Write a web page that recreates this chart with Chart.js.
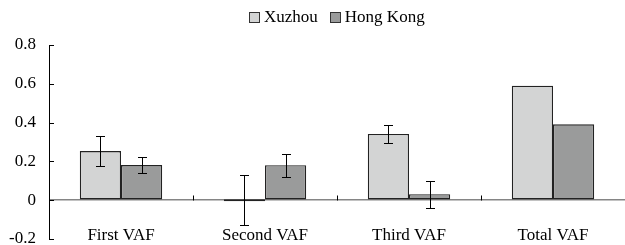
<!DOCTYPE html>
<html><head><meta charset="utf-8">
<script src="https://cdn.jsdelivr.net/npm/chart.js@4.4.0/dist/chart.umd.min.js"></script>
<style>
html,body{margin:0;padding:0;background:#fff;}
#wrap{position:relative;width:625px;height:245px;}
#c{position:absolute;left:0;top:0;}
#legend{position:absolute;top:7px;left:249px;display:flex;align-items:center;font-family:'Liberation Serif','DejaVu Serif',serif;font-size:17px;color:#000;line-height:20px;white-space:nowrap;}
.item{display:flex;align-items:center;margin-right:12px;}
.box{width:9px;height:9px;border:1px solid #333;margin-right:4px;}
</style></head><body>
<div id="wrap"><canvas id="c" width="625" height="245"></canvas><div id="legend"></div></div>
<script>
const categories = ['First VAF', 'Second VAF', 'Third VAF', 'Total VAF'];
const seriesNames = ['Xuzhou', 'Hong Kong'];
const xuzhouValues = [0.253, 0, 0.341, 0.59];
const xuzhouErrors = [0.078, 0.128, 0.045, null];
const hongKongValues = [0.181, 0.18, 0.031, 0.391];
const hongKongErrors = [0.042, 0.058, 0.069, null];
const yTicks = [-0.2, 0, 0.2, 0.4, 0.6, 0.8];
const colors = ['#d3d4d4', '#9a9b9b'];

const FONT = {family: "'Liberation Serif', 'DejaVu Serif', serif", size: 17};

const legend = document.getElementById('legend');
seriesNames.forEach((n, i) => {
  const it = document.createElement('div'); it.className = 'item';
  const b = document.createElement('div'); b.className = 'box'; b.style.background = colors[i];
  const t = document.createElement('span'); t.textContent = n;
  it.appendChild(b); it.appendChild(t); legend.appendChild(it);
});

const errorSets = [xuzhouErrors, hongKongErrors];

const decor = {
  id: 'decor',
  afterDatasetsDraw(chart) {
    const ctx = chart.ctx, xs = chart.scales.x, ys = chart.scales.y, area = chart.chartArea;
    ctx.save();
    ctx.strokeStyle = '#000';
    ctx.lineWidth = 1;
    ctx.beginPath();
    errorSets.forEach((errs, di) => {
      const meta = chart.getDatasetMeta(di);
      const vals = chart.data.datasets[di].data;
      meta.data.forEach((bar, i) => {
        const e = errs[i];
        if (e == null) return;
        const cx = Math.round(bar.x) + 0.5;
        const yt = Math.round(ys.getPixelForValue(vals[i] + e)) + 0.5;
        const yb = Math.round(ys.getPixelForValue(vals[i] - e)) + 0.5;
        ctx.moveTo(cx, yt); ctx.lineTo(cx, yb);
        ctx.moveTo(cx - 4.5, yt); ctx.lineTo(cx + 4.5, yt);
        ctx.moveTo(cx - 4.5, yb); ctx.lineTo(cx + 4.5, yb);
      });
    });
    ys.ticks.forEach(t => {
      const py = Math.round(ys.getPixelForValue(t.value)) + 0.5;
      ctx.moveTo(area.left, py); ctx.lineTo(area.left + 5, py);
    });
    const y0 = Math.round(ys.getPixelForValue(0)) + 0.5;
    for (let i = 1; i < categories.length; i++) {
      const bx = Math.round((xs.getPixelForValue(i - 1) + xs.getPixelForValue(i)) / 2) + 0.5;
      ctx.moveTo(bx, y0 - 5); ctx.lineTo(bx, y0);
    }
    ctx.stroke();
    ctx.restore();
  }
};

new Chart(document.getElementById('c'), {
  type: 'bar',
  data: {
    labels: categories,
    datasets: [
      {label: seriesNames[0], data: xuzhouValues, backgroundColor: colors[0]},
      {label: seriesNames[1], data: hongKongValues, backgroundColor: colors[1]}
    ].map(d => Object.assign(d, {
      borderColor: '#222', borderWidth: 1.3, borderSkipped: false,
      categoryPercentage: 0.572, barPercentage: 1, minBarLength: 2
    }))
  },
  options: {
    responsive: false,
    animation: false,
    devicePixelRatio: 1,
    layout: {padding: {top: 45, bottom: 6, left: 0, right: -4}},
    plugins: {legend: {display: false}, tooltip: {enabled: false}},
    scales: {
      x: {
        type: 'category',
        position: {y: 0},
        offset: true,
        grid: {display: false, drawTicks: false},
        border: {display: false},
        ticks: {font: FONT, color: '#000', padding: 25, maxRotation: 0, autoSkip: false}
      },
      y: {
        min: -0.2, max: 0.8,
        afterBuildTicks: s => { s.ticks = yTicks.map(v => ({value: v})); },
        afterFit: s => { s.width = 49; s.paddingTop = 0; s.paddingBottom = 0; },
        grid: {
          color: c => (c.tick && c.tick.value === 0) ? '#858585' : 'rgba(0,0,0,0)',
          drawTicks: false, lineWidth: 1.6
        },
        border: {display: true, color: '#000', width: 1},
        ticks: {font: FONT, color: '#000', padding: 13, callback: v => String(v)}
      }
    }
  },
  plugins: [decor]
});
</script>
</body></html>
